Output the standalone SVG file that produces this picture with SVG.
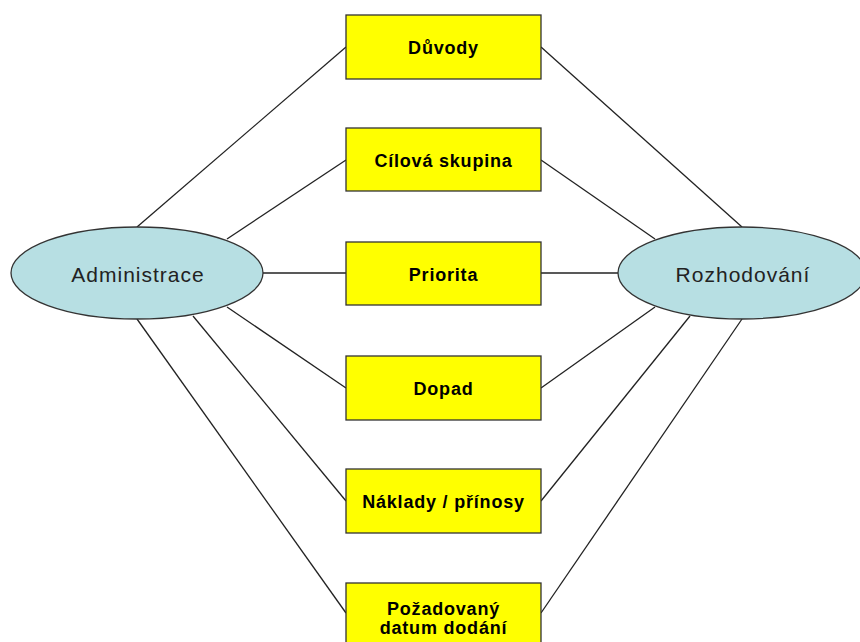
<svg xmlns="http://www.w3.org/2000/svg" width="860" height="642" viewBox="0 0 860 642">
  <style>
    .box { fill: #ffff00; stroke: #333333; stroke-width: 1.3; }
    .ell { fill: #b7dfe3; stroke: #333333; stroke-width: 1.3; }
    .lbl { font-family: "Liberation Sans", Arial, sans-serif; font-weight: bold; font-size: 18px; letter-spacing: 0.8px; fill: #000000; text-anchor: middle; }
    .big { font-family: "Liberation Sans", Arial, sans-serif; font-size: 21px; letter-spacing: 1px; fill: #222222; text-anchor: middle; }
    #connectors line { stroke: #222222; stroke-width: 1.3; }
  </style>
  <rect width="860" height="642" fill="#ffffff"/>
  <g id="connectors">
    <line x1="137" y1="227" x2="346" y2="47"/>
    <line x1="227" y1="239" x2="346" y2="160"/>
    <line x1="263" y1="273" x2="346" y2="273"/>
    <line x1="227" y1="307" x2="346" y2="388"/>
    <line x1="193" y1="316" x2="346" y2="501"/>
    <line x1="137" y1="319" x2="346" y2="613"/>
    <line x1="541" y1="47" x2="742" y2="227"/>
    <line x1="541" y1="160" x2="655" y2="239"/>
    <line x1="541" y1="273" x2="618" y2="273"/>
    <line x1="541" y1="388" x2="655" y2="307"/>
    <line x1="541" y1="501" x2="690" y2="316"/>
    <line x1="541" y1="613" x2="742" y2="319"/>
  </g>
  <g id="administrace">
    <ellipse class="ell" cx="137" cy="273" rx="126" ry="46"/>
    <text class="big" x="138" y="282">Administrace</text>
  </g>
  <g id="rozhodovani">
    <ellipse class="ell" cx="742" cy="273" rx="124" ry="46"/>
    <text class="big" x="743" y="282">Rozhodování</text>
  </g>
  <g id="duvody">
    <rect class="box" x="346" y="15" width="195" height="64"/>
    <text class="lbl" x="443.5" y="54">Důvody</text>
  </g>
  <g id="cilova-skupina">
    <rect class="box" x="346" y="128" width="195" height="63"/>
    <text class="lbl" x="443.5" y="167">Cílová skupina</text>
  </g>
  <g id="priorita">
    <rect class="box" x="346" y="242" width="195" height="63"/>
    <text class="lbl" x="443.5" y="281">Priorita</text>
  </g>
  <g id="dopad">
    <rect class="box" x="346" y="356" width="195" height="64"/>
    <text class="lbl" x="443.5" y="395">Dopad</text>
  </g>
  <g id="naklady-prinosy">
    <rect class="box" x="346" y="469" width="195" height="64"/>
    <text class="lbl" x="443.5" y="508">Náklady / přínosy</text>
  </g>
  <g id="pozadovany-datum">
    <rect class="box" x="346" y="583" width="195" height="64"/>
    <text class="lbl" x="443.5" y="615">Požadovaný</text>
    <text class="lbl" x="443.5" y="634">datum dodání</text>
  </g>
</svg>
